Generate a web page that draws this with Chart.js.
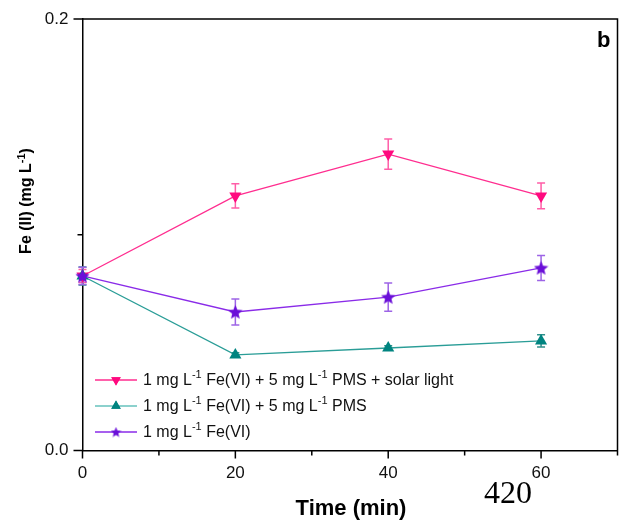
<!DOCTYPE html>
<html>
<head>
<meta charset="utf-8">
<script src="https://cdn.jsdelivr.net/npm/chart.js@4.4.0/dist/chart.umd.min.js"></script>
<style>
  html, body { margin: 0; padding: 0; background: #fff; }
  #wrap { position: relative; width: 621px; height: 524px; }
</style>
</head>
<body>
<div id="wrap"><canvas id="myChart" width="621" height="524"></canvas></div>
<script>
// datos
const times = [0, 20, 40, 60];
const solarVals = [0.0809, 0.118, 0.1374, 0.118];
const solarErr = [0.003, 0.0056, 0.007, 0.006];
const pmsVals = [0.0809, 0.0443, 0.0475, 0.0508];
const pmsErr = [0.0042, 0.001, 0.001, 0.0028];
const feVals = [0.0809, 0.0642, 0.0711, 0.0846];
const feErr = [0.004, 0.006, 0.0065, 0.0058];
const xTickLabels = [0, 20, 40, 60];
const yTickLabels = ['0.0', '0.2'];

// partes del texto de la leyenda: normal, superindice, normal...
const legendParts = [
  ['1 mg L', '-1', ' Fe(VI) + 5 mg L', '-1', ' PMS + solar light'],
  ['1 mg L', '-1', ' Fe(VI) + 5 mg L', '-1', ' PMS'],
  ['1 mg L', '-1', ' Fe(VI)'],
];

const FONT = '"Liberation Sans", Arial, sans-serif';

function makeStar(size, color) {
  const c = document.createElement('canvas');
  c.width = size;
  c.height = size;
  const g = c.getContext('2d');
  const cx = size / 2, cy = size / 2 + size * 0.04, R = size / 2, r = R * 0.45;
  g.beginPath();
  for (let i = 0; i < 10; i++) {
    const rad = i % 2 === 0 ? R : r;
    const a = -Math.PI / 2 + (i * Math.PI) / 5;
    g.lineTo(cx + rad * Math.cos(a), cy + rad * Math.sin(a));
  }
  g.closePath();
  g.fillStyle = color;
  g.fill();
  return c;
}

const starBig = makeStar(15, '#6a0fd8');
const starSmall = makeStar(11, '#6a0fd8');

const series = [
  { vals: solarVals, err: solarErr, line: '#ff2d8f', mark: '#ff0a7f', bar: '#ff5ea8', style: 'triangle', rot: 180, legendStyle: 'triangle' },
  { vals: pmsVals, err: pmsErr, line: '#2a9d97', mark: '#008480', bar: '#2f8f8a', style: 'triangle', rot: 0, legendStyle: 'triangle', legendLine: '#66c2bd' },
  { vals: feVals, err: feErr, line: '#8a2be8', mark: '#6a0fd8', bar: '#9d64e6', style: starBig, rot: 0, legendStyle: starSmall },
];

// dibuja texto con superindices, devuelve ancho
function drawParts(g, parts, x, y, size, bold, measureOnly) {
  let w = 0;
  parts.forEach((p, i) => {
    const sup = i % 2 === 1;
    const fs = sup ? Math.round(size * 0.7) : size;
    g.font = (bold ? 'bold ' : '') + fs + 'px ' + FONT;
    if (!measureOnly) g.fillText(p, x + w, sup ? y - size * 0.38 : y);
    w += g.measureText(p).width;
  });
  return w;
}

const extras = {
  id: 'extras',
  beforeDatasetsDraw(chart) {
    const g = chart.ctx;
    const xs = chart.scales.x, ys = chart.scales.y;
    g.save();
    series.forEach((s) => {
      g.strokeStyle = s.bar;
      g.lineWidth = 1.5;
      times.forEach((t, i) => {
        const px = xs.getPixelForValue(t);
        const top = ys.getPixelForValue(s.vals[i] + s.err[i]);
        const bot = ys.getPixelForValue(s.vals[i] - s.err[i]);
        g.beginPath();
        g.moveTo(px, top); g.lineTo(px, bot);
        g.moveTo(px - 4, top); g.lineTo(px + 4, top);
        g.moveTo(px - 4, bot); g.lineTo(px + 4, bot);
        g.stroke();
      });
    });
    g.restore();
  },
  afterDraw(chart) {
    const g = chart.ctx;
    const a = chart.chartArea;
    const xs = chart.scales.x, ys = chart.scales.y;
    g.save();
    g.strokeStyle = '#000';
    g.lineWidth = 1.5;
    // caja: arriba y derecha
    g.beginPath();
    g.moveTo(a.left, a.top); g.lineTo(a.right, a.top); g.lineTo(a.right, a.bottom);
    g.stroke();
    // marcas de los ejes
    g.beginPath();
    for (let v = 0; v <= 70; v += 10) {
      const px = xs.getPixelForValue(v);
      const len = v % 20 === 0 && v <= 60 ? 8 : 5;
      g.moveTo(px, a.bottom); g.lineTo(px, a.bottom + len);
    }
    [0, 0.1, 0.2].forEach((v, i) => {
      const py = ys.getPixelForValue(v);
      const len = i === 1 ? 5 : 9;
      g.moveTo(a.left, py); g.lineTo(a.left - len, py);
    });
    g.stroke();

    // titulos
    g.fillStyle = '#000';
    g.textBaseline = 'alphabetic';
    g.textAlign = 'center';
    g.font = 'bold 22px ' + FONT;
    g.fillText('Time (min)', 351, 515);

    const yParts = ['Fe (II) (mg L', '-1', ')'];
    g.textAlign = 'left';
    const yw = drawParts(g, yParts, 0, 0, 16, true, true);
    g.save();
    g.translate(31, 201);
    g.rotate(-Math.PI / 2);
    drawParts(g, yParts, -yw / 2, 0, 16, true, false);
    g.restore();

    g.font = 'bold 22px ' + FONT;
    g.fillText('b', 597, 47);

    g.font = '32px "Liberation Serif", "Times New Roman", serif';
    g.fillText('420', 484, 503);

    // leyenda
    const rows = [380, 406, 432];
    series.forEach((s, i) => {
      const y = rows[i];
      g.strokeStyle = s.legendLine || s.line;
      g.lineWidth = 1.3;
      g.beginPath();
      g.moveTo(95, y); g.lineTo(137, y);
      g.stroke();
      if (typeof s.legendStyle === 'string') {
        g.fillStyle = s.mark;
        Chart.helpers.drawPoint(g, { pointStyle: s.legendStyle, radius: 5.5, rotation: s.rot, borderWidth: 0 }, 116, y);
        g.fill();
      } else {
        g.drawImage(s.legendStyle, 116 - s.legendStyle.width / 2, y - s.legendStyle.height / 2);
      }
      g.fillStyle = '#111';
      g.textBaseline = 'middle';
      drawParts(g, legendParts[i], 143, y + 1, 16, false, false);
    });
    g.restore();
  },
};

const ctx = document.getElementById('myChart').getContext('2d');

const myChart = new Chart(ctx, {
  type: 'line',
  data: {
    datasets: series.map((s, k) => ({
      label: legendParts[k].join(''),
      data: times.map((t, i) => ({ x: t, y: s.vals[i] })),
      borderColor: s.line,
      borderWidth: 1.3,
      backgroundColor: s.mark,
      pointBackgroundColor: s.mark,
      pointBorderColor: s.mark,
      pointBorderWidth: 0,
      pointStyle: s.style,
      pointRotation: s.rot,
      pointRadius: 7,
      pointHoverRadius: 7,
      tension: 0,
      clip: false,
      order: 2 - k,
    })),
  },
  options: {
    responsive: false,
    animation: false,
    layout: { autoPadding: false, padding: { top: 19, right: 3.5, left: 0, bottom: 0 } },
    plugins: { legend: { display: false }, tooltip: { enabled: true } },
    scales: {
      x: {
        type: 'linear',
        min: 0,
        max: 70,
        grid: { display: false, drawTicks: false },
        border: { display: true, color: '#000', width: 1.5 },
        ticks: {
          stepSize: 10,
          autoSkip: false,
          maxRotation: 0,
          padding: 13,
          color: '#111',
          font: { family: FONT, size: 17 },
          callback: (v) => (xTickLabels.includes(v) ? String(v) : ''),
        },
        afterFit: (scale) => {
          scale.height = 73.5;
          scale.paddingLeft = 0;
          scale.paddingRight = 0;
        },
      },
      y: {
        min: 0,
        max: 0.2,
        grid: { display: false, drawTicks: false },
        border: { display: true, color: '#000', width: 1.5 },
        ticks: {
          stepSize: 0.1,
          autoSkip: false,
          padding: 14,
          color: '#111',
          font: { family: FONT, size: 17 },
          callback: (v) => (Math.abs(v) < 1e-9 ? yTickLabels[0] : Math.abs(v - 0.2) < 1e-9 ? yTickLabels[1] : ''),
        },
        afterFit: (scale) => {
          scale.width = 82.5;
          scale.paddingTop = 0;
          scale.paddingBottom = 0;
        },
      },
    },
  },
  plugins: [extras],
});
</script>
</body>
</html>
